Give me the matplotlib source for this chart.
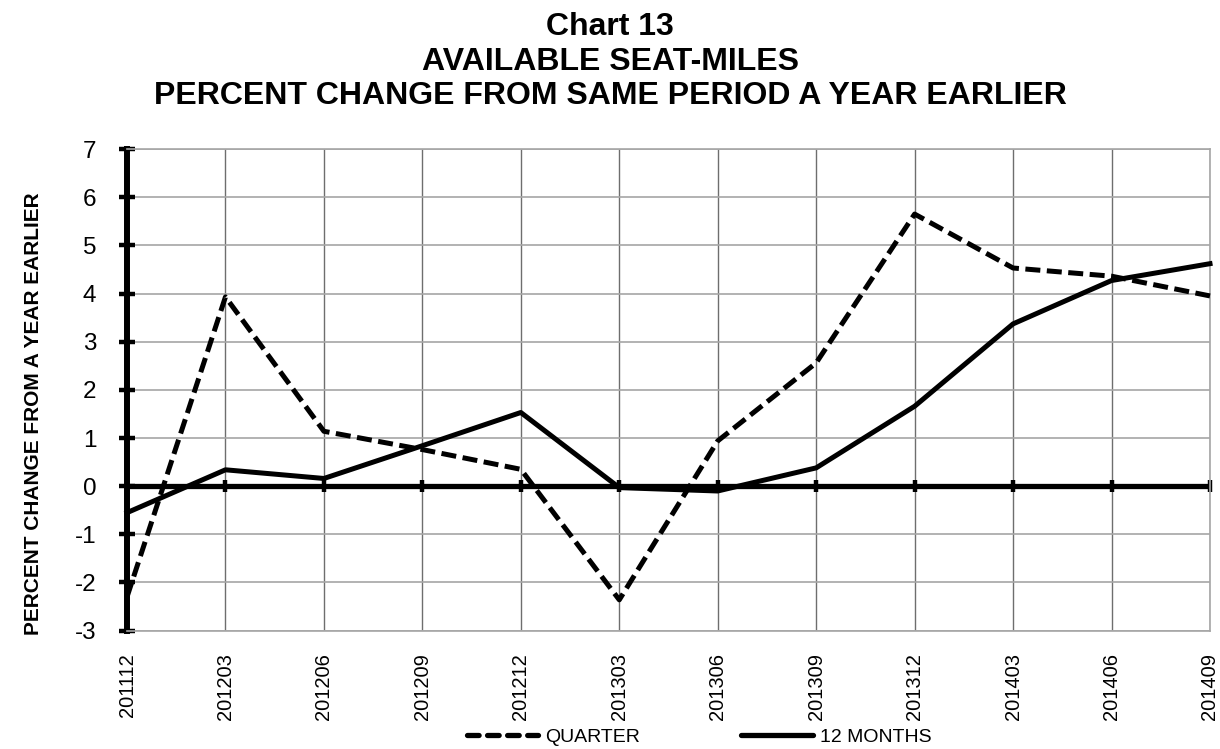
import matplotlib.pyplot as plt
from matplotlib.lines import Line2D

plt.rcParams['font.family'] = ['Liberation Sans', 'DejaVu Sans']
plt.rcParams['axes.unicode_minus'] = False

periods = ['201112', '201203', '201206', '201209', '201212', '201303',
           '201306', '201309', '201312', '201403', '201406', '201409']
quarter = [-2.3, 3.93, 1.14, 0.76, 0.35, -2.36, 0.94, 2.56, 5.65, 4.53, 4.36, 3.95]
twelve_months = [-0.55, 0.34, 0.16, 0.84, 1.53, -0.03, -0.1, 0.38, 1.66, 3.37, 4.27, 4.62]

fig = plt.figure(figsize=(12.2, 7.49), dpi=100)
ax = fig.add_axes([0.1041, 0.158, 0.8877, 0.643])

x = list(range(len(periods)))

ax.set_xlim(0, len(periods) - 1)
ax.set_ylim(-3, 7)
ax.set_yticks(range(-3, 8))
ax.set_xticks(x)
ax.set_xticklabels(periods, rotation=90, fontsize=14.5)
ax.tick_params(axis='x', length=0, pad=16)
ax.tick_params(axis='y', direction='inout', length=12, width=3.2, labelsize=17.5, pad=16)

ax.grid(True, axis='y', color='#a6a6a6', lw=1.2, zorder=0)
ax.grid(True, axis='x', color='#6e6e6e', lw=1.0, zorder=0)
for side in ['top', 'right', 'bottom']:
    ax.spines[side].set_color('#a6a6a6')
    ax.spines[side].set_linewidth(1.2)
ax.spines['left'].set_linewidth(4.3)
ax.spines['left'].set_color('black')

# zero line with category ticks
ax.axhline(0, color='black', lw=3.8, zorder=2)
ax.plot(x, [0] * len(x), ls='none', marker='|', ms=9, mew=3.2, color='black',
        zorder=2, clip_on=False)

ax.plot(x, quarter, color='black', lw=3.6, ls=(0, (3.0, 1.3)), zorder=3,
        dash_capstyle='butt', clip_on=False)
ax.plot(x, twelve_months, color='black', lw=3.6, zorder=3, clip_on=False)

ax.set_ylabel('PERCENT CHANGE FROM A YEAR EARLIER', fontsize=15, fontweight='bold')
ax.yaxis.set_label_coords(-0.0775, 0.45)

fig.text(0.5, 0.984, 'Chart 13\nAVAILABLE SEAT-MILES\nPERCENT CHANGE FROM SAME PERIOD A YEAR EARLIER',
         ha='center', va='top', fontsize=23, fontweight='bold', linespacing=1.2)

handles = [Line2D([], [], color='black', lw=3.8, ls=(0, (2.2, 1.6)), dash_capstyle='round'),
           Line2D([], [], color='black', lw=3.8, solid_capstyle='round')]
fig.legend(handles, ['QUARTER', '12 MONTHS'], loc='center', ncol=2,
           bbox_to_anchor=(0.573, 0.016), frameon=False, fontsize=14,
           handlelength=3.7, handletextpad=0.35, columnspacing=5.2)

plt.savefig('out.png', dpi=100)
